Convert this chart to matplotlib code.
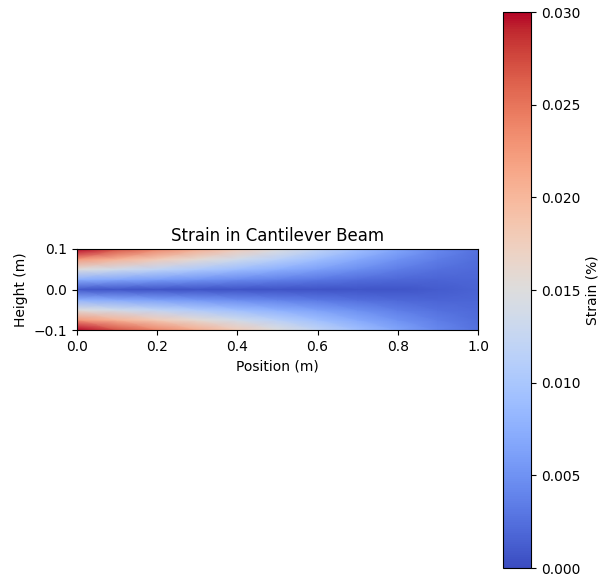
import numpy as np
import matplotlib
matplotlib.use("Agg")
import matplotlib.pyplot as plt

# Positions along the beam (m) and heights across the section (m)
positions = [0.0, 0.1, 0.2, 0.3, 0.4, 0.5, 0.6, 0.7, 0.8, 0.9, 1.0]
heights = [-0.1, -0.075, -0.05, -0.025, 0.0, 0.025, 0.05, 0.075, 0.1]

# Strain values (rows follow heights, columns follow positions)
row_outer = [0.0300, 0.0270, 0.0240, 0.0210, 0.0180, 0.0150, 0.0121, 0.0093, 0.0066, 0.0043, 0.0026]
row_075 = [0.0225, 0.0203, 0.0180, 0.0158, 0.0135, 0.0113, 0.0091, 0.0070, 0.0050, 0.0034, 0.0023]
row_050 = [0.0150, 0.0135, 0.0120, 0.0105, 0.0090, 0.0075, 0.0061, 0.0047, 0.0035, 0.0025, 0.0020]
row_025 = [0.0075, 0.0068, 0.0060, 0.0053, 0.0045, 0.0038, 0.0031, 0.0024, 0.0019, 0.0017, 0.0018]
row_mid = [0.0008, 0.0006, 0.0005, 0.0005, 0.0005, 0.0005, 0.0005, 0.0006, 0.0007, 0.0011, 0.0016]
strain = np.array([row_outer, row_075, row_050, row_025, row_mid,
                   row_025, row_050, row_075, row_outer])

cbar_ticks = [0.000, 0.005, 0.010, 0.015, 0.020, 0.025, 0.030]

fig = plt.figure(figsize=(6.06, 5.81), dpi=100)
ax = fig.add_axes([77/606, 1 - 330/581, 401/606, 81/581])
cax = fig.add_axes([503/606, 1 - 568/581, 28/606, 556/581])

mesh = ax.pcolormesh(positions, heights, strain, cmap="coolwarm",
                     vmin=0.0, vmax=0.03, shading="gouraud")
ax.set_xlim(0, 1)
ax.set_ylim(-0.1, 0.1)
ax.set_aspect("auto")
ax.set_xticks([0.0, 0.2, 0.4, 0.6, 0.8, 1.0])
ax.set_yticks([-0.1, 0.0, 0.1])
ax.set_title("Strain in Cantilever Beam", fontsize=12)
ax.set_xlabel("Position (m)")
ax.set_ylabel("Height (m)")

cb = fig.colorbar(mesh, cax=cax)
cb.set_ticks(cbar_ticks)
cb.set_label("Strain (%)")

fig.savefig("out.png", dpi=100)
